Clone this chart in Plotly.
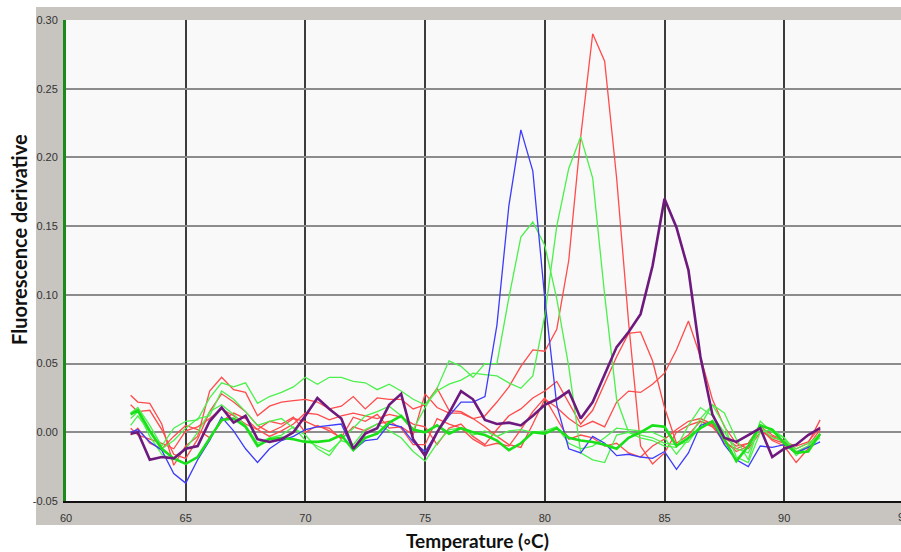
import plotly.graph_objects as go

temps = [62.7, 63.0, 63.5, 64.0, 64.5, 65.0, 65.5, 66.0, 66.5, 67.0,
         67.5, 68.0, 68.5, 69.0, 69.5, 70.0, 70.5, 71.0, 71.5, 72.0,
         72.5, 73.0, 73.5, 74.0, 74.5, 75.0, 75.5, 76.0, 76.5, 77.0,
         77.5, 78.0, 78.5, 79.0, 79.5, 80.0, 80.5, 81.0, 81.5, 82.0,
         82.5, 83.0, 83.5, 84.0, 84.5, 85.0, 85.5, 86.0, 86.5, 87.0,
         87.5, 88.0, 88.5, 89.0, 89.5, 90.0, 90.5, 91.0, 91.5]

red_a = [0.027, 0.022, 0.021, 0.006, -0.024, -0.010, -0.003, 0.030, 0.040, 0.031,
         0.029, 0.012, 0.019, 0.022, 0.023, 0.024, 0.022, 0.017, 0.019, 0.026,
         0.017, 0.025, 0.024, 0.024, 0.017, 0.020, 0.032, 0.016, 0.015, 0.010,
         0.012, 0.022, 0.033, 0.048, 0.060, 0.059, 0.075, 0.125, 0.215, 0.290,
         0.270, 0.185, 0.080, -0.010, -0.023, -0.015, 0.000, 0.005, 0.008, 0.005,
         -0.008, -0.012, -0.008, 0.005, -0.005, -0.008, -0.012, -0.008, 0.009]

red_b = [0.003, -0.002, -0.005, -0.008, -0.012, 0.001, 0.004, 0.010, 0.017, 0.012,
         0.006, 0.002, 0.008, 0.006, 0.011, 0.000, 0.005, 0.001, -0.004, 0.011,
         0.008, 0.013, 0.003, 0.004, -0.002, 0.028, 0.018, 0.014, 0.014, 0.010,
         0.004, -0.003, -0.009, -0.011, 0.006, 0.024, 0.018, 0.010, 0.004, 0.008,
         0.004, 0.022, 0.030, 0.029, 0.035, 0.043, 0.060, 0.081, 0.055, 0.024,
         0.004, -0.008, -0.012, 0.000, -0.003, -0.007, -0.010, -0.007, 0.004]

red_c = [-0.002, 0.003, -0.008, -0.012, -0.003, 0.005, 0.002, -0.004, 0.008, 0.014,
         0.010, 0.002, -0.003, 0.001, 0.006, 0.014, 0.013, 0.009, 0.012, 0.014,
         0.012, 0.010, 0.013, 0.011, 0.006, 0.004, -0.009, 0.003, 0.006, -0.003,
         -0.009, 0.002, 0.012, 0.017, 0.025, 0.030, 0.037, 0.022, 0.006, 0.016,
         0.035, 0.055, 0.072, 0.073, 0.052, 0.018, -0.008, -0.002, 0.008, 0.004,
         -0.006, -0.014, -0.010, 0.004, -0.002, -0.006, -0.015, -0.010, 0.002]

red_d = [0.020, 0.015, 0.016, 0.002, -0.016, -0.019, -0.005, 0.015, 0.028, 0.022,
         0.015, 0.005, 0.000, 0.004, 0.010, 0.008, 0.004, 0.003, -0.005, 0.004,
         0.001, 0.006, 0.008, 0.003, -0.009, -0.009, 0.010, 0.006, 0.003, -0.005,
         -0.010, -0.008, -0.010, 0.002, 0.015, 0.025, 0.010, -0.005, -0.002, -0.004,
         -0.010, -0.008, -0.015, -0.018, -0.010, -0.005, 0.002, 0.008, 0.010, 0.006,
         -0.004, -0.010, -0.008, 0.003, -0.006, -0.010, -0.022, -0.012, -0.002]

green_a = [0.005, 0.012, 0.000, -0.012, -0.006, 0.003, 0.010, 0.012, 0.030, 0.024,
           0.015, 0.005, 0.008, 0.010, 0.003, -0.002, -0.012, -0.017, -0.005, 0.003,
           0.012, 0.015, 0.019, 0.012, 0.002, 0.018, 0.032, 0.052, 0.048, 0.040,
           0.050, 0.050, 0.098, 0.142, 0.153, 0.136, 0.097, 0.048, -0.015, -0.020,
           -0.022, -0.002, 0.000, -0.004, -0.006, -0.010, -0.011, 0.005, 0.018, 0.012,
           0.000, -0.012, -0.015, 0.004, -0.004, -0.006, -0.012, -0.008, -0.002]

green_b = [0.014, 0.018, 0.005, -0.010, 0.003, 0.008, 0.009, 0.025, 0.036, 0.033,
           0.036, 0.021, 0.026, 0.029, 0.033, 0.040, 0.035, 0.040, 0.040, 0.037,
           0.036, 0.031, 0.035, 0.030, 0.024, 0.020, 0.030, 0.035, 0.038, 0.043,
           0.042, 0.041, 0.036, 0.032, 0.041, 0.085, 0.150, 0.192, 0.215, 0.185,
           0.100, 0.024, 0.000, -0.002, -0.004, -0.008, -0.009, -0.007, 0.005, 0.020,
           0.014, -0.005, -0.020, 0.008, 0.000, -0.004, -0.017, -0.010, -0.001]

green_c = [0.010, 0.015, -0.003, -0.016, -0.020, -0.012, 0.000, 0.015, 0.020, 0.013,
           0.005, -0.008, -0.004, -0.002, 0.004, -0.006, -0.010, -0.014, -0.006, -0.009,
           0.002, 0.006, 0.001, -0.004, -0.014, -0.021, -0.008, 0.002, 0.003, -0.002,
           0.001, -0.003, 0.001, 0.002, 0.000, 0.001, 0.004, -0.008, -0.012, -0.010,
           -0.004, 0.003, 0.002, 0.001, 0.000, -0.004, -0.016, -0.005, 0.010, 0.020,
           0.005, -0.018, -0.022, 0.000, 0.002, -0.004, -0.014, -0.010, -0.004]

blue = [0.000, 0.002, -0.007, -0.013, -0.030, -0.037, -0.020, -0.006, 0.011, 0.001,
        -0.012, -0.022, -0.012, -0.006, -0.003, 0.002, 0.004, 0.005, 0.006, -0.013,
        -0.006, -0.005, 0.006, 0.004, -0.007, -0.014, 0.000, 0.012, 0.022, 0.022,
        0.026, 0.078, 0.165, 0.220, 0.190, 0.097, 0.020, -0.012, -0.015, -0.003,
        -0.008, -0.017, -0.016, -0.018, -0.019, -0.014, -0.027, -0.015, 0.005, 0.008,
        -0.009, -0.020, -0.025, -0.010, -0.011, -0.009, -0.015, -0.011, -0.007]

green_thick = [0.013, 0.016, 0.001, -0.012, -0.019, -0.023, -0.018, -0.004, 0.009, 0.010,
               0.004, -0.010, -0.005, -0.004, -0.005, -0.007, -0.007, -0.006, -0.002, -0.013,
               -0.004, -0.001, 0.007, 0.012, 0.002, 0.000, 0.005, -0.001, 0.003, 0.000,
               -0.002, -0.006, -0.013, -0.008, 0.000, -0.001, 0.003, -0.004, -0.006, -0.007,
               -0.009, -0.012, -0.004, 0.000, 0.005, 0.004, -0.010, -0.004, 0.003, 0.008,
               -0.005, -0.021, -0.010, 0.005, 0.002, -0.008, -0.015, -0.014, -0.001]

purple = [-0.001, 0.000, -0.020, -0.018, -0.019, -0.012, -0.010, 0.008, 0.018, 0.007,
          0.012, -0.005, -0.007, -0.005, 0.000, 0.012, 0.025, 0.017, 0.010, -0.012,
          -0.001, 0.003, 0.020, 0.028, -0.005, -0.017, 0.000, 0.014, 0.030, 0.024,
          0.009, 0.006, 0.007, 0.005, 0.012, 0.020, 0.024, 0.030, 0.010, 0.022,
          0.042, 0.062, 0.073, 0.086, 0.121, 0.170, 0.149, 0.118, 0.055, 0.013,
          -0.004, -0.007, -0.002, 0.003, -0.018, -0.012, -0.009, -0.002, 0.003]

x_ticks = [60, 65, 70, 75, 80, 85, 90]
y_ticks = [-0.05, 0.00, 0.05, 0.10, 0.15, 0.20, 0.25, 0.30]
y_tick_text = ["-0.05", "0.00", "0.05", "0.10", "0.15", "0.20", "0.25", "0.30"]

RED = "rgb(255,75,75)"
GREEN = "rgb(75,240,75)"
BLUE = "rgb(60,60,250)"
PURPLE = "rgb(110,25,125)"
GREEN_THICK = "rgb(25,225,25)"

series = [
    (red_d, RED, 1.3), (red_c, RED, 1.3), (red_b, RED, 1.3), (red_a, RED, 1.3),
    (green_c, GREEN, 1.3), (green_a, GREEN, 1.3), (green_b, GREEN, 1.3),
    (blue, BLUE, 1.3), (green_thick, GREEN_THICK, 2.6), (purple, PURPLE, 2.6),
]

fig = go.Figure()
for vals, col, w in series:
    assert len(vals) == len(temps)
    fig.add_trace(go.Scatter(x=temps, y=vals, mode="lines",
                             line=dict(color=col, width=w), showlegend=False,
                             hoverinfo="skip"))

W, H = 901, 552
L, T, B = 66, 20, 51
pw = W - L
ph = H - T - B
PX_PER_DEG = 23.94

def px_x(p):
    return (p - L) / pw

def px_y(p):
    return (H - B - p) / ph

fig.add_shape(type="rect", xref="paper", yref="paper", layer="below",
              x0=px_x(36), x1=px_x(910), y0=px_y(525), y1=px_y(7),
              fillcolor="#c8c5c0", line=dict(width=0))
fig.add_shape(type="rect", xref="paper", yref="paper", layer="below",
              x0=0, x1=1.02, y0=0, y1=1,
              fillcolor="#f9f9f9", line=dict(width=0))

fig.update_layout(
    width=W, height=H,
    margin=dict(l=L, r=0, t=T, b=B, pad=0, autoexpand=False),
    paper_bgcolor="white",
    plot_bgcolor="rgba(0,0,0,0)",
    showlegend=False,
    xaxis=dict(range=[60, 60 + pw / PX_PER_DEG], tickvals=x_ticks,
               ticktext=[str(v) for v in x_ticks], automargin=False,
               showgrid=True, gridcolor="#3c3c3c", gridwidth=1.5,
               zeroline=False, showline=True, linecolor="#111111", linewidth=2,
               ticks="", ticklabelstandoff=6,
               tickfont=dict(family="Liberation Sans", size=11, color="#333333")),
    yaxis=dict(range=[-0.05, 0.30], tickvals=y_ticks, ticktext=y_tick_text,
               showgrid=True, gridcolor="#8c8c8c", gridwidth=1.5, automargin=False,
               zeroline=False, showline=True, linecolor="#1a8a1a", linewidth=3,
               ticks="", ticklabelstandoff=3,
               tickfont=dict(family="Liberation Sans", size=11, color="#333333")),
    annotations=[
        dict(text="95", x=px_x(L + 35 * PX_PER_DEG), xref="paper", y=0, yref="paper",
             xanchor="center", yanchor="top", yshift=-8, showarrow=False,
             font=dict(family="Liberation Sans", size=11, color="#333333")),
        dict(text="<b>Temperature (◦C)</b>", x=px_x(477), xref="paper",
             y=px_y(540), yref="paper", xanchor="center", yanchor="middle",
             showarrow=False,
             font=dict(family="Lato", size=19, color="#111111")),
        dict(text="<b>Fluorescence derivative</b>", x=px_x(19), xref="paper",
             y=px_y(240), yref="paper", xanchor="center", yanchor="middle",
             textangle=-90, showarrow=False,
             font=dict(family="Lato", size=20, color="#111111")),
    ],
)

fig.write_html("out.html", config={"displayModeBar": False})

with open("out.html", "r", encoding="utf-8") as f:
    html = f.read()
html = html.replace("<head>", "<head><style>html,body{margin:0;padding:0;overflow:hidden;}</style>", 1)
with open("out.html", "w", encoding="utf-8") as f:
    f.write(html)
